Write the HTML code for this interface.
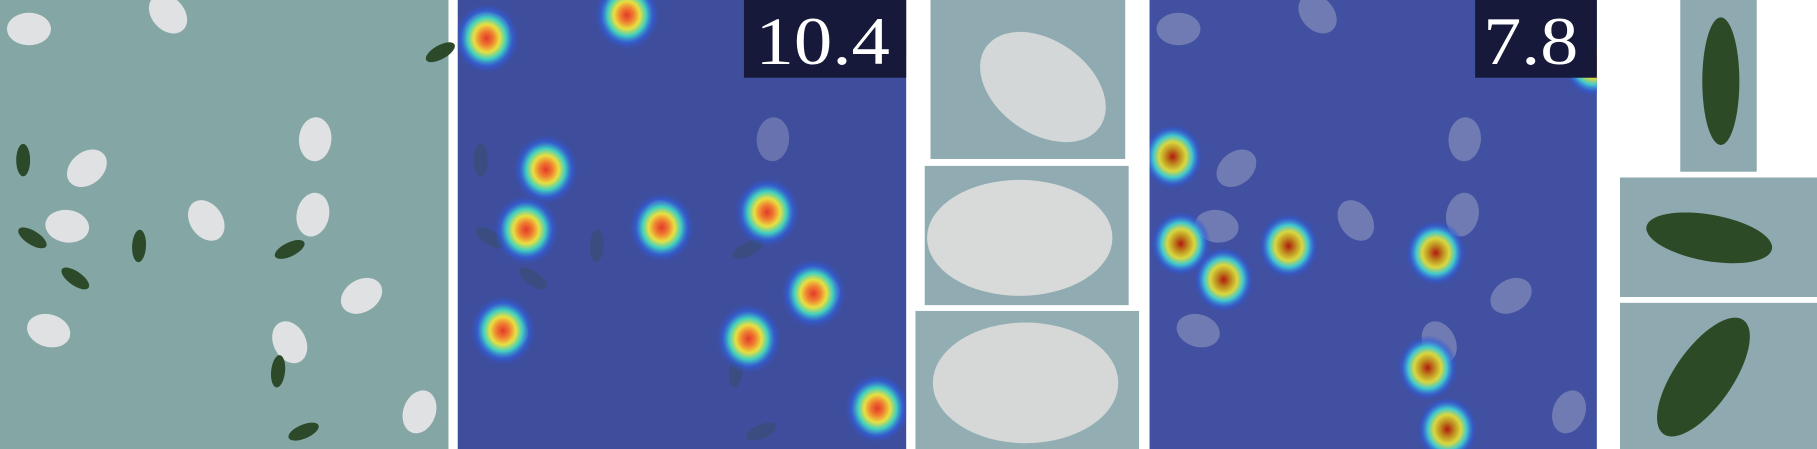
<!DOCTYPE html>
<html><head><meta charset="utf-8">
<style>
html,body{margin:0;padding:0;background:#fff;width:1817px;height:449px;overflow:hidden}
svg{display:block}
text{font-family:"Liberation Serif",serif}
</style></head>
<body>
<svg id="fig" width="1817" height="449" viewBox="0 0 1568 387" preserveAspectRatio="none" xmlns="http://www.w3.org/2000/svg">
<defs>
<radialGradient id="heat">
<stop offset="0" stop-color="#e03a2a"/>
<stop offset="0.2" stop-color="#f07a30"/>
<stop offset="0.4" stop-color="#e8e040"/>
<stop offset="0.6" stop-color="#40d0c0"/>
<stop offset="0.8" stop-color="#3060e0" stop-opacity="0.7"/>
<stop offset="1" stop-color="#3050c0" stop-opacity="0"/>
</radialGradient>
<radialGradient id="heat2">
<stop offset="0" stop-color="#b01a10"/>
<stop offset="0.25" stop-color="#c09020"/>
<stop offset="0.45" stop-color="#d8d840"/>
<stop offset="0.65" stop-color="#40c8d0"/>
<stop offset="0.85" stop-color="#3060e0" stop-opacity="0.6"/>
<stop offset="1" stop-color="#3050c0" stop-opacity="0"/>
</radialGradient>
<clipPath id="c2"><rect x="395" y="0" width="387" height="387"/></clipPath>
<clipPath id="c4"><rect x="992" y="0" width="386" height="387"/></clipPath>
</defs>
<rect x="0" y="0" width="387" height="387" fill="#84a7a6"/>
<g id="p1"></g>
<rect x="395" y="0" width="387" height="387" fill="#3f4e9c"/>
<g id="p2" clip-path="url(#c2)"></g>
<rect x="642" y="0" width="140" height="67" fill="#17193a"/>
<text x="652" y="55" font-size="58" textLength="116" lengthAdjust="spacingAndGlyphs" fill="#fff">10.4</text>
<rect x="803" y="0" width="168" height="137" fill="#8faab0"/>
<ellipse cx="900" cy="75" rx="60" ry="40" fill="#d4d7d8" transform="rotate(35 900 75)"/>
<rect x="798" y="143" width="176" height="120" fill="#90abb1"/>
<ellipse cx="880" cy="205" rx="80" ry="50" fill="#d8dada"/>
<rect x="790" y="268" width="193" height="119" fill="#93aeb3"/>
<ellipse cx="885" cy="330" rx="80" ry="52" fill="#d6d8d8"/>
<rect x="992" y="0" width="386" height="387" fill="#4150a0"/>
<g id="p4" clip-path="url(#c4)"></g>
<rect x="1273" y="0" width="105" height="67" fill="#17193a"/>
<text x="1280" y="55" font-size="58" textLength="82" lengthAdjust="spacingAndGlyphs" fill="#fff">7.8</text>
<rect x="1450" y="0" width="66" height="148" fill="#8eaab0"/>
<ellipse cx="1485" cy="70" rx="16" ry="55" fill="#2d4a26"/>
<rect x="1398" y="153" width="170" height="103" fill="#8eaab0"/>
<ellipse cx="1475" cy="205" rx="55" ry="20" fill="#2d4a26" transform="rotate(10 1475 205)"/>
<rect x="1398" y="261" width="170" height="126" fill="#8eaab0"/>
<ellipse cx="1470" cy="325" rx="25" ry="60" fill="#2d4a26" transform="rotate(35 1470 325)"/>
</svg>
<script>
const pitcherX=[25,145,272,75,58,178,270,312,42,250,362];
const pitcherY=[25,12,120,145,195,190,185,255,285,295,355];
const plantX=[20,380,28,120,250,65,240,262];
const plantY=[138,45,205,212,215,240,320,372];
const heatAX=[25,146,76,59,176,267,307,39,251,362];
const heatAY=[33,13,146,198,196,183,253,285,292,352];
const heatBX=[20,27,120,64,247,240,257,383];
const heatBY=[135,210,212,241,218,317,370,55];
const NS="http://www.w3.org/2000/svg";
function mk(tag,attrs,parent){const e=document.createElementNS(NS,tag);for(const k in attrs)e.setAttribute(k,attrs[k]);parent.appendChild(e);return e;}
const p1=document.getElementById('p1'),p2=document.getElementById('p2'),p4=document.getElementById('p4');
function objects(g,ox,alpha){
  for(let i=0;i<pitcherX.length;i++){
    const e=mk('ellipse',{cx:ox+pitcherX[i],cy:pitcherY[i],rx:19,ry:14,fill:'#dfe1e2','fill-opacity':alpha,transform:`rotate(${(i*47)%180} ${ox+pitcherX[i]} ${pitcherY[i]})`},g);
    
    
  }
  for(let i=0;i<plantX.length;i++){
    const e=mk('ellipse',{cx:ox+plantX[i],cy:plantY[i],rx:6,ry:14,fill:'#2c4a2a','fill-opacity':alpha,transform:`rotate(${(i*61)%180} ${ox+plantX[i]} ${plantY[i]})`},g);
    
    
  }
}
objects(p1,0,1);
objects(p2,395,0.25);
objects(p4,992,0.3);
for(let i=0;i<heatAX.length;i++){
  const e=mk('ellipse',{cx:395+heatAX[i],cy:heatAY[i],rx:28,ry:30,fill:'url(#heat)'},p2);
  
  
}
for(let i=0;i<heatBX.length;i++){
  const e=mk('ellipse',{cx:992+heatBX[i],cy:heatBY[i],rx:26,ry:28,fill:'url(#heat2)'},p4);
  
  
}
</script>
</body></html>
